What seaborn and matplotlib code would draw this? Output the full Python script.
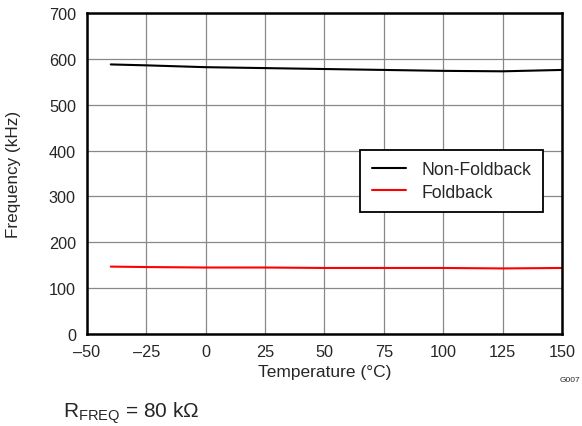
import numpy as np
import pandas as pd
import matplotlib
matplotlib.use('Agg')
import matplotlib.pyplot as plt
import seaborn as sns

temps = [-40, -25, 0, 25, 50, 75, 100, 125, 150]
non_foldback = [588, 586, 582, 580, 578, 576, 574, 573, 576]
foldback = [147, 146, 145, 145, 144, 144, 144, 143, 144]

df = pd.DataFrame({
    'Temperature': temps * 2,
    'Frequency': non_foldback + foldback,
    'Mode': ['Non-Foldback'] * len(temps) + ['Foldback'] * len(temps),
})

sns.set_style('white')
plt.rcParams['font.family'] = ['Liberation Sans', 'DejaVu Sans']
plt.rcParams['mathtext.fontset'] = 'custom'
plt.rcParams['mathtext.rm'] = 'Liberation Sans'

fig = plt.figure(figsize=(5.82, 4.27), dpi=100)
ax = fig.add_axes([0.1495, 0.2155, 0.816, 0.7515])

sns.lineplot(data=df, x='Temperature', y='Frequency', hue='Mode',
             palette={'Non-Foldback': 'black', 'Foldback': 'red'},
             linewidth=1.5, ax=ax)

ax.set_xlim(-50, 150)
ax.set_ylim(0, 700)
ax.set_xticks(np.arange(-50, 151, 25))
ax.set_yticks(np.arange(0, 701, 100))
ax.set_xticklabels(['\u201350', '\u201325'] + [str(v) for v in range(0, 151, 25)])
ax.tick_params(labelsize=11.7, length=0)
ax.tick_params(axis='x', pad=7)
ax.tick_params(axis='y', pad=8)
ax.grid(True, color='#888888', linewidth=0.9)
for s in ax.spines.values():
    s.set_color('black')
    s.set_linewidth(1.8)

ax.set_xlabel('Temperature (\u00b0C)', fontsize=12.5)
ax.set_ylabel('Frequency (kHz)', fontsize=12.3)
ax.xaxis.set_label_coords(0.5, -0.094)
ax.yaxis.set_label_coords(-0.139, 0.5)

leg = ax.legend(loc='upper left', bbox_to_anchor=(0.575, 0.574), fontsize=12.7,
                frameon=True, fancybox=False, borderpad=0.65, handlelength=1.95,
                handletextpad=0.9, labelspacing=0.3, borderaxespad=0)
leg.get_frame().set_edgecolor('black')
leg.get_frame().set_linewidth(1.3)
leg.get_frame().set_alpha(1)

fig.text(0.962, 0.108, 'G007', fontsize=6, ha='left', va='center')
fig.text(0.108, 0.0234, 'R$_{\\mathregular{FREQ}}$ = 80 k\u03a9',
         fontsize=15, ha='left', va='baseline')

fig.savefig('out.png', dpi=100)
